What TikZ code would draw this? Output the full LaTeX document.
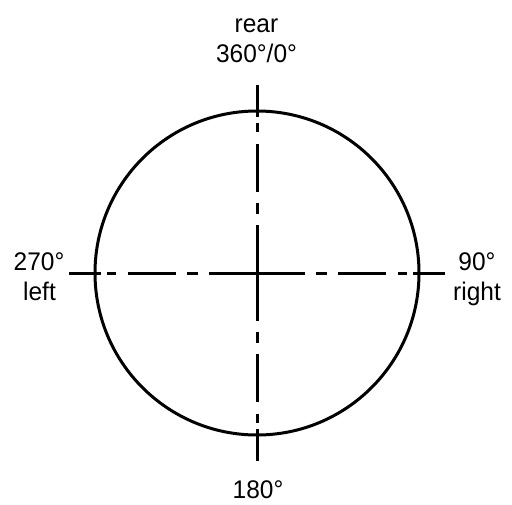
\documentclass[tikz,border=0pt]{standalone}
\usepackage{fontspec}
\setmainfont[FakeStretch=0.96]{Liberation Sans}
\begin{document}
\begin{tikzpicture}[x=1pt,y=1pt,
  axisline/.style={line width=3pt, dash pattern=on 48pt off 11pt on 11pt off 11pt on 48pt off 12pt on 9pt off 6pt on 60pt off 10pt},
  ring/.style={line width=3pt},
  lbl/.style={inner sep=0pt, anchor=base, font=\fontsize{25.5}{30}\selectfont}]
\useasboundingbox (0,0) rectangle (512,-504);
\coordinate (c) at (257,-273);
\coordinate (top) at (257,-85);
\coordinate (bot) at (257,-461);
\coordinate (lft) at (69,-273);
\coordinate (rgt) at (445,-273);
\draw[ring] (c) circle (162);
\draw[axisline] (c) -- (top);
\draw[axisline] (c) -- (bot);
\draw[axisline] (c) -- (lft);
\draw[axisline] (c) -- (rgt);
\node[lbl] (rear) at (256.5,-32) {rear};
\node[lbl] (deg0) at (256.5,-62) {360°/0°};
\node[lbl] (deg270) at (39,-270) {270°};
\node[lbl] (left) at (39.5,-300) {left};
\node[lbl] (deg90) at (477,-270) {90°};
\node[lbl] (right) at (477,-300) {right};
\node[lbl] (deg180) at (258,-498) {180°};
\end{tikzpicture}
\end{document}
